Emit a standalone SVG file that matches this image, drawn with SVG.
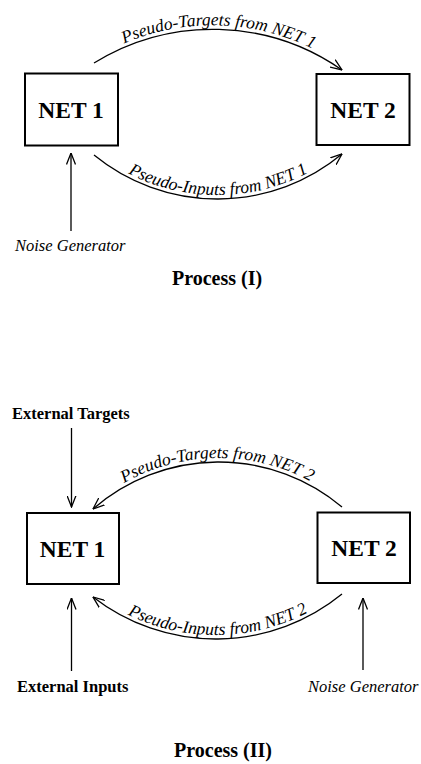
<svg xmlns="http://www.w3.org/2000/svg" width="421" height="764" viewBox="0 0 421 764">
<style>
text{font-family:"Liberation Serif","Times New Roman",serif;fill:#000}
.box{fill:#fff;stroke:#000;stroke-width:2}
.net{font-size:23.5px;font-weight:bold;text-anchor:middle}
.lbl{font-size:17.5px;font-style:italic}
.bold{font-size:16.5px;font-weight:bold}
.ital{font-size:16.5px;font-style:italic}
.title{font-size:20px;font-weight:bold;text-anchor:middle}
.con{fill:none;stroke:#000;stroke-width:1.3;marker-end:url(#arr)}
</style>
<defs>
<marker id="arr" markerUnits="userSpaceOnUse" viewBox="0 0 12 10" refX="11.5" refY="5" markerWidth="12" markerHeight="10" orient="auto">
<path d="M0,0.5 L11.5,5 L0,9.5" fill="none" stroke="#000" stroke-width="1.3"/>
</marker>
<path id="tp1" d="M94,59 A226,226 0 0 1 342,66"/>
<path id="tp2" d="M94,151 A195,195 0 0 0 342,150"/>
<path id="tp3" d="M93,505 A191.5,191.5 0 0 1 342,503"/>
<path id="tp4" d="M93,593 A200,200 0 0 0 342,590"/>
</defs>
<rect width="421" height="764" fill="#fff"/>

<g id="connectors">
<path class="con" d="M94,63 A226,226 0 0 1 342,70"/>
<path class="con" d="M94,155 A195,195 0 0 0 342,154"/>
<path class="con" d="M71,231 L71,153"/>
<path class="con" d="M342,507 A191.5,191.5 0 0 0 93,509"/>
<path class="con" d="M342,594 A200,200 0 0 1 93,597"/>
<path class="con" d="M71.5,428 L71.5,507"/>
<path class="con" d="M71.5,671 L71.5,598"/>
<path class="con" d="M363,670 L363,598"/>
</g>

<g id="labels-connectors">
<text class="lbl"><textPath href="#tp1" startOffset="50%" text-anchor="middle">Pseudo-Targets from NET 1</textPath></text>
<text class="lbl"><textPath href="#tp2" startOffset="50%" text-anchor="middle">Pseudo-Inputs from NET 1</textPath></text>
<text class="lbl"><textPath href="#tp3" startOffset="50%" text-anchor="middle">Pseudo-Targets from NET 2</textPath></text>
<text class="lbl"><textPath href="#tp4" startOffset="50%" text-anchor="middle">Pseudo-Inputs from NET 2</textPath></text>
</g>

<g id="p1-net1">
<rect class="box" x="25" y="73.5" width="93" height="72"/>
<text class="net" x="71" y="117.5">NET 1</text>
</g>
<g id="p1-net2">
<rect class="box" x="316.5" y="74" width="93" height="71"/>
<text class="net" x="363" y="118">NET 2</text>
</g>
<g id="p1-noise">
<text class="ital" x="15" y="251">Noise Generator</text>
</g>
<g id="p1-title">
<text class="title" x="217" y="285">Process (I)</text>
</g>

<g id="p2-ext-targets">
<text class="bold" x="12" y="419">External Targets</text>
</g>
<g id="p2-net1">
<rect class="box" x="27" y="513" width="92" height="71"/>
<text class="net" x="72.5" y="556.5">NET 1</text>
</g>
<g id="p2-net2">
<rect class="box" x="317.5" y="512.5" width="92.5" height="70.5"/>
<text class="net" x="364" y="555.5">NET 2</text>
</g>
<g id="p2-ext-inputs">
<text class="bold" x="17" y="692">External Inputs</text>
</g>
<g id="p2-noise">
<text class="ital" x="308" y="692">Noise Generator</text>
</g>
<g id="p2-title">
<text class="title" x="223" y="757">Process (II)</text>
</g>
</svg>
